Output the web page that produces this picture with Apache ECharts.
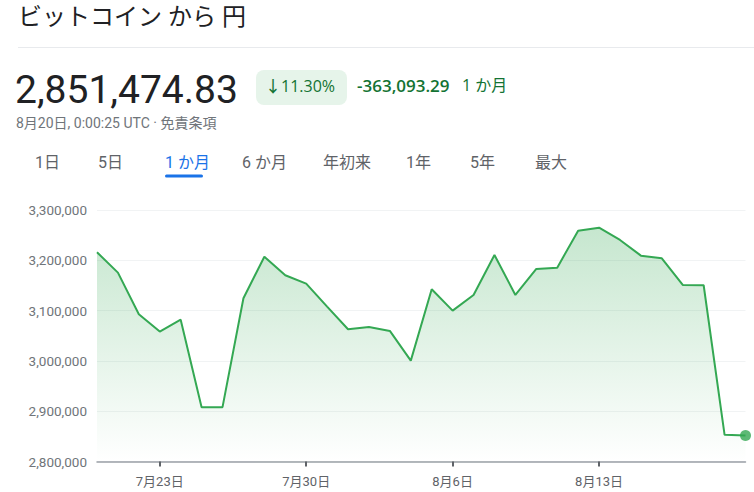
<!DOCTYPE html>
<html><head><meta charset="utf-8">
<script src="https://cdn.jsdelivr.net/npm/echarts@6/dist/echarts.min.js"></script>
<style>html,body{margin:0;padding:0;background:#fff;}#c{width:754px;height:492px;}</style>
</head><body><div id="c"></div>
<script>
const dates = ["7月20日","7月21日","7月22日","7月23日","7月24日","7月25日","7月26日","7月27日","7月28日","7月29日","7月30日","7月31日","8月1日","8月2日","8月3日","8月4日","8月5日","8月6日","8月7日","8月8日","8月9日","8月10日","8月11日","8月12日","8月13日","8月14日","8月15日","8月16日","8月17日","8月18日","8月19日","8月20日"];
const prices = [3216000,3175500,3092800,3058300,3082000,2908000,2908000,3124500,3207200,3170200,3153600,3108000,3062900,3067500,3059600,3000500,3142400,3100000,3131100,3210600,3131100,3182800,3185400,3258900,3264800,3240400,3209200,3204000,3151000,3150400,2853000,2851474.83];
const labelDates = ["7月23日","7月30日","8月6日","8月13日"];
const yTicks = {min: 2800000, max: 3300000, interval: 100000};
const tabs = ["1日","5日","1 か月","6 か月","年初来","1年","5年","最大"];
const tabX = [35,98,165,242,323,406,470,535];

const FONT = 'Roboto, "Noto Sans CJK JP", sans-serif';
const FONT2 = '"Open Sans", "Noto Sans CJK JP", sans-serif';
const chart = echarts.init(document.getElementById('c'), null, {renderer:'svg'});
const last = prices.length - 1;
const graphics = [
  {type:'text', left:18, top:5, style:{text:'ビットコイン から 円', font:'400 24px ' + FONT, fill:'#202124'}},
  {type:'line', shape:{x1:18,y1:47.5,x2:754,y2:47.5}, style:{stroke:'#e8eaed', lineWidth:1}},
  {type:'text', left:15, top:70, style:{text:'2,851,474.83', font:'400 39px ' + FONT, fill:'#202124'}},
  {type:'rect', shape:{x:256,y:70,width:91,height:35,r:8}, style:{fill:'#e6f4ea'}},
  {type:'text', left:265, top:78, style:{text:'↓11.30%', font:'500 16px ' + FONT2, fill:'#137333'}},
  {type:'text', left:357, top:77, style:{text:'-363,093.29', font:'600 17px ' + FONT2, fill:'#137333'}},
  {type:'text', left:462, top:77, style:{text:'1 か月', font:'400 16px ' + FONT2, fill:'#137333'}},
  {type:'text', left:16, top:116, style:{text:'8月20日, 0:00:25 UTC · 免責条項', font:'400 14px ' + FONT, fill:'#70757a'}},
  {type:'rect', shape:{x:165,y:174.5,width:38,height:3,r:1.5}, style:{fill:'#1a73e8'}}
];
tabs.forEach((t,i)=>{
  graphics.push({type:'text', left:tabX[i], top:154, style:{text:t, font:'400 16px ' + FONT, fill: i===2 ? '#1a73e8' : '#5f6368'}});
});
const showIdx = (i) => labelDates.indexOf(dates[i]) >= 0;
chart.setOption({
  animation:false,
  graphic: graphics,
  grid:{left:97, right:8.5, top:210, bottom:30.5, containLabel:false},
  xAxis:{type:'category', data:dates, boundaryGap:false,
    axisLine:{lineStyle:{color:'#9aa0a6', width:1.5}},
    axisTick:{show:true, interval:(i)=>showIdx(i), length:5, lineStyle:{color:'#5f6368', width:2}},
    axisLabel:{interval:(i)=>showIdx(i), color:'#5f6368', fontSize:13, margin:13, fontFamily:FONT},
    splitLine:{show:false}},
  yAxis:{type:'value', min:yTicks.min, max:yTicks.max, interval:yTicks.interval,
    axisLine:{show:false}, axisTick:{show:false},
    axisLabel:{color:'#70757a', fontSize:13.5, margin:10, fontFamily:FONT,
      formatter:(v)=>v.toLocaleString('en-US')},
    splitLine:{lineStyle:{color:'#f1f3f4', width:1}}},
  series:[
    {type:'line', data:prices, showSymbol:false, smooth:false,
      lineStyle:{color:'#34a853', width:2},
      areaStyle:{color:new echarts.graphic.LinearGradient(0,0,0,1,[{offset:0,color:'rgba(52,168,83,0.4)'},{offset:1,color:'rgba(52,168,83,0)'}]), origin:'start'}},
    {type:'scatter', data:[[last, prices[last]]], symbol:'circle', symbolSize:11, itemStyle:{color:'#34a853'}, z:5}
  ]
});
</script></body></html>
